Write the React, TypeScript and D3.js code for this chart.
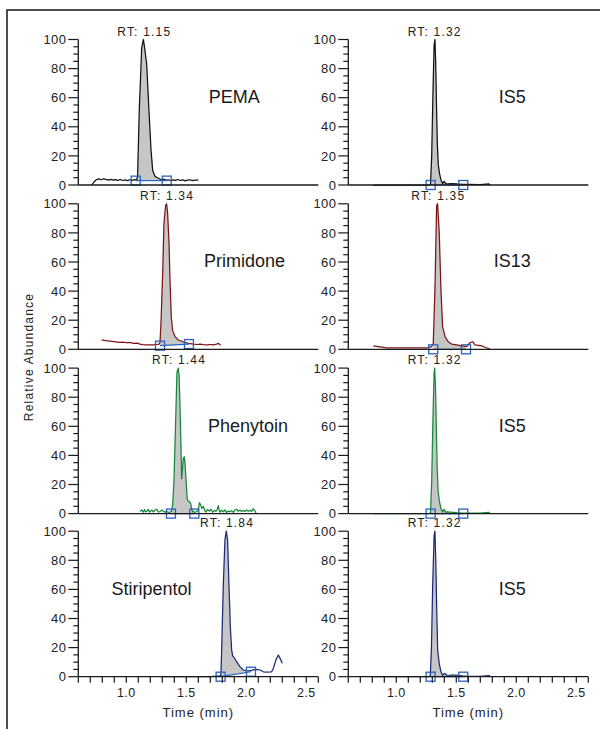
import React from 'react';
import * as d3 from 'd3';

type Pt = [number, number];

// ---------- data ----------
const compoundNames = ['PEMA', 'Primidone', 'Phenytoin', 'Stiripentol'];
const standardNames = ['IS5', 'IS13', 'IS5', 'IS5'];
const compoundRT = [1.15, 1.34, 1.44, 1.84];
const standardRT = [1.32, 1.35, 1.32, 1.32];

const pemaTrace: Pt[] = [
  [0.712, 0], [0.73, 2], [0.75, 3.6], [0.77, 4.2], [0.79, 3.6], [0.81, 4.3], [0.83, 3.8], [0.85, 3.4],
  [0.87, 3.9], [0.89, 3.3], [0.91, 3.7], [0.93, 3.2], [0.95, 3.8], [0.97, 3.1], [0.99, 3.5], [1.01, 3.0],
  [1.03, 3.6], [1.05, 3.2], [1.07, 3.7], [1.085, 3.4], [1.094, 6], [1.108, 51], [1.128, 94], [1.142, 100],
  [1.15, 96], [1.17, 83], [1.189, 51], [1.206, 24], [1.22, 10], [1.239, 6], [1.267, 4.6], [1.29, 3.6],
  [1.31, 4.0], [1.33, 3.4], [1.35, 3.6], [1.37, 3.0], [1.39, 3.5], [1.41, 3.2], [1.43, 3.8], [1.45, 3.1],
  [1.47, 3.5], [1.49, 2.8], [1.51, 3.3], [1.53, 3.6], [1.55, 3.0], [1.57, 3.4], [1.585, 3.3], [1.6, 3.5],
];

const primidoneTrace: Pt[] = [
  [0.794, 6.4], [0.83, 6.0], [0.864, 5.7], [0.9, 5.3], [0.94, 4.8], [0.97, 5.0], [1.003, 4.5], [1.03, 4.7],
  [1.058, 4.1], [1.09, 4.2], [1.114, 3.6], [1.14, 3.2], [1.169, 3.0], [1.2, 3.1], [1.225, 3.0], [1.25, 3.3],
  [1.275, 3.6], [1.281, 5], [1.289, 18], [1.303, 52], [1.314, 87], [1.328, 99], [1.336, 100], [1.344, 94],
  [1.356, 73], [1.364, 48], [1.375, 22], [1.386, 13], [1.406, 8.7], [1.433, 6.4], [1.475, 5.2], [1.517, 4.1],
  [1.558, 3.6], [1.59, 3.3], [1.614, 3.6], [1.64, 3.2], [1.669, 3.0], [1.7, 3.3], [1.725, 3.0], [1.753, 3.6],
  [1.767, 4.1], [1.786, 2.7],
];

const phenytoinTrace: Pt[] = [
  [1.114, 1.4], [1.128, 2.5], [1.142, 1.0], [1.152, 2.8], [1.161, 1.2], [1.172, 1.6], [1.183, 3.0], [1.193, 1.0],
  [1.203, 1.8], [1.214, 2.4], [1.225, 1.2], [1.24, 2.5], [1.253, 3.0], [1.267, 1.2], [1.281, 1.4], [1.295, 2.6],
  [1.308, 1.6], [1.322, 1.0], [1.336, 1.4], [1.35, 1.0], [1.364, 0.9], [1.378, 2.0], [1.386, 6], [1.397, 22],
  [1.411, 63], [1.422, 97], [1.433, 100], [1.44, 95], [1.447, 75], [1.456, 45], [1.461, 24], [1.468, 30],
  [1.475, 38], [1.483, 39], [1.49, 34], [1.497, 24], [1.508, 10], [1.516, 8.5], [1.525, 8.3], [1.536, 7],
  [1.546, 3], [1.553, 1.2], [1.562, 1.5], [1.572, 0.8], [1.585, 1.5], [1.6, 2.5], [1.61, 7.5], [1.619, 6.0],
  [1.63, 3.5], [1.642, 5.0], [1.653, 2.2], [1.664, 1.0], [1.675, 2.8], [1.692, 1.8], [1.705, 3.0], [1.719, 0.9],
  [1.733, 2.2], [1.747, 1.5], [1.757, 2.8], [1.767, 5.5], [1.775, 2.0], [1.781, 1.0], [1.795, 2.4], [1.808, 1.2],
  [1.822, 2.5], [1.836, 0.8], [1.85, 1.8], [1.864, 1.2], [1.878, 2.0], [1.892, 0.8], [1.905, 2.5], [1.919, 3.0],
  [1.933, 1.6], [1.947, 2.4], [1.961, 1.5], [1.975, 2.0], [1.99, 1.5], [2.003, 2.5], [2.017, 1.6], [2.031, 2.2],
  [2.045, 1.5], [2.058, 3.5], [2.07, 2.0], [2.081, 0.5],
];

const stiripentolTrace: Pt[] = [
  [1.3, 0], [1.4, 0], [1.5, 0], [1.6, 0], [1.7, 0], [1.781, 0.5], [1.788, 1], [1.794, 16], [1.808, 62],
  [1.822, 94], [1.833, 100], [1.844, 94], [1.856, 62], [1.867, 34], [1.878, 18.3], [1.886, 14.5], [1.9, 13],
  [1.919, 10.3], [1.947, 6.9], [1.975, 4.6], [2.003, 4.1], [2.03, 4.0], [2.044, 4.3], [2.065, 4.8], [2.086, 5.0],
  [2.114, 4.6], [2.142, 3.4], [2.169, 3.2], [2.211, 3.4], [2.225, 5.7], [2.247, 11.5], [2.267, 14.9],
  [2.281, 12.6], [2.3, 9.2],
];

const is5TraceA: Pt[] = [
  [0.808, 0], [0.9, 0], [1.0, 0], [1.1, 0], [1.2, 0], [1.27, 0], [1.285, 0.5], [1.295, 20], [1.305, 62],
  [1.315, 96], [1.322, 100], [1.328, 85], [1.335, 55], [1.342, 28], [1.35, 14], [1.36, 8], [1.372, 3.5],
  [1.386, 1], [1.398, 2.5], [1.41, 1.2], [1.425, 0.6], [1.447, 1.0], [1.5, 0.8], [1.55, 0.5], [1.6, 0.4],
  [1.7, 0.3], [1.772, 0.8], [1.781, 0],
];

const is13Trace: Pt[] = [
  [0.808, 2.3], [0.85, 1.8], [0.919, 0.9], [0.97, 1.0], [1.031, 0.9], [1.09, 1.0], [1.142, 0.9], [1.2, 1.0],
  [1.253, 0.9], [1.294, 1.8], [1.308, 4.1], [1.322, 41], [1.336, 99], [1.344, 100], [1.358, 80], [1.372, 41],
  [1.386, 15.6], [1.406, 8.7], [1.433, 5.2], [1.461, 3.6], [1.503, 3.0], [1.544, 2.3], [1.586, 1.8],
  [1.614, 4.5], [1.636, 5.2], [1.656, 3.0], [1.683, 2.7], [1.711, 2.3], [1.739, 1.4], [1.781, 0.2],
];

const is5TraceB: Pt[] = [
  [0.808, 0], [0.9, 0], [1.0, 0], [1.1, 0], [1.2, 0], [1.27, 0], [1.285, 0.5], [1.295, 22], [1.305, 64],
  [1.315, 97], [1.32, 100], [1.327, 86], [1.334, 57], [1.341, 30], [1.349, 15], [1.36, 8], [1.372, 3.5],
  [1.386, 1.2], [1.398, 3.0], [1.41, 1.0], [1.425, 1.2], [1.447, 1.0], [1.5, 0.6], [1.55, 0.4], [1.6, 0.3],
  [1.7, 0.3], [1.772, 0.8], [1.781, 0],
];

const is5TraceC: Pt[] = [
  [0.808, 0], [0.9, 0], [1.0, 0], [1.1, 0], [1.2, 0], [1.27, 0], [1.283, 0.5], [1.293, 20], [1.303, 62],
  [1.315, 97], [1.322, 100], [1.329, 80], [1.337, 45], [1.345, 18], [1.358, 9], [1.372, 3.4], [1.386, 1],
  [1.4, 2.3], [1.414, 1.6], [1.428, 0.5], [1.447, 1.0], [1.5, 1.0], [1.55, 0.6], [1.6, 0.3], [1.7, 0.3],
  [1.772, 0.8], [1.781, 0],
];

const compoundTraces = [pemaTrace, primidoneTrace, phenytoinTrace, stiripentolTrace];
const standardTraces = [is5TraceA, is13Trace, is5TraceB, is5TraceC];

// integration boundaries: [start time, start level], [end time, end level]
const compoundBounds: [Pt, Pt][] = [
  [[1.078, 3.0], [1.337, 3.0]],
  [[1.281, 2.5], [1.522, 3.6]],
  [[1.372, 0], [1.567, 0]],
  [[1.786, 0], [2.039, 3.4]],
];
const standardBounds: [Pt, Pt][] = [
  [[1.286, 0], [1.558, 0]],
  [[1.308, 0], [1.581, 0]],
  [[1.286, 0], [1.558, 0]],
  [[1.286, 0], [1.558, 0]],
];

const xTickValues = [0.6, 0.7, 0.8, 0.9, 1.0, 1.1, 1.2, 1.3, 1.4, 1.5, 1.6, 1.7, 1.8, 1.9, 2.0, 2.1, 2.2, 2.3, 2.4, 2.5, 2.6];
const xTickLabels = [1.0, 1.5, 2.0, 2.5];
const yMajorTicks = [0, 20, 40, 60, 80, 100];
const yMinorTicks = [5, 10, 15, 25, 30, 35, 45, 50, 55, 65, 70, 75, 85, 90, 95];

// ---------- layout / style ----------
const traceColors = ['#111111', '#7c1416', '#17883a', '#1b2a78'];
const colX = [78.3, 348.3];
const rowY0 = [185, 349.3, 513.6, 676.7];
const plotW = 240;
const plotH = 145.5;
const compoundLabelT = [1.9, 1.985, 2.015, 1.21];
const standardLabelT = 1.967;
const FONT = '"Liberation Sans", Arial, Helvetica, sans-serif';
const BLUE = '#2862c2';
const AXIS = '#1a1a1a';
const TEXT = '#222';

function valueAt(trace: Pt[], t: number): number {
  for (let i = 0; i < trace.length - 1; i++) {
    const [t0, v0] = trace[i];
    const [t1, v1] = trace[i + 1];
    if (t >= t0 && t <= t1) return v0 + ((v1 - v0) * (t - t0)) / (t1 - t0);
  }
  return trace[trace.length - 1][1];
}

interface PanelProps {
  x0: number;
  y0: number;
  trace: Pt[];
  bounds: [Pt, Pt];
  rt: number;
  name: string;
  labelT: number;
  color: string;
  showX: boolean;
}

function Panel({ x0, y0, trace, bounds, rt, name, labelT, color, showX }: PanelProps) {
  const x = d3.scaleLinear().domain([0.6, 2.6]).range([x0, x0 + plotW]);
  const y = d3.scaleLinear().domain([0, 100]).range([y0, y0 - plotH]);
  const line = d3.line<Pt>().x((d) => x(d[0])).y((d) => y(d[1]));
  const [[t1, b1], [t2, b2]] = bounds;
  const base = (t: number) => b1 + ((b2 - b1) * (t - t1)) / (t2 - t1);
  const fillPts: Pt[] = [
    [t1, valueAt(trace, t1)],
    ...trace.filter((p) => p[0] > t1 && p[0] < t2),
    [t2, valueAt(trace, t2)],
  ];
  const area = d3
    .area<Pt>()
    .x((d) => x(d[0]))
    .y0((d) => y(base(d[0])))
    .y1((d) => y(Math.max(d[1], base(d[0]))));
  const sq = 9;
  return (
    <g>
      <path d={area(fillPts) || ''} fill="#c6c6c6" stroke="none" />
      <path d={line(trace) || ''} fill="none" stroke={color} strokeWidth={1.25} strokeLinejoin="round" />
      <line x1={x(t1)} y1={y(b1)} x2={x(t2)} y2={y(b2)} stroke={BLUE} strokeWidth={1.2} />
      {[bounds[0], bounds[1]].map((b, i) => (
        <rect key={i} x={x(b[0]) - sq / 2} y={y(b[1]) - sq / 2} width={sq} height={sq} fill="none" stroke={BLUE} strokeWidth={1.3} />
      ))}
      {/* axes */}
      <line x1={x0} y1={y(0)} x2={x0} y2={y(100)} stroke={AXIS} strokeWidth={1.3} />
      <line x1={x0} y1={y0} x2={x0 + plotW} y2={y0} stroke={AXIS} strokeWidth={1.3} />
      {yMajorTicks.map((v) => (
        <g key={'M' + v}>
          <line x1={x0 - 10} x2={x0} y1={y(v)} y2={y(v)} stroke={AXIS} strokeWidth={1.2} />
          <text x={x0 - 12} y={y(v)} dy="0.36em" textAnchor="end" fontSize={13} letterSpacing={0.4} fill={TEXT} fontFamily={FONT}>
            {v}
          </text>
        </g>
      ))}
      {yMinorTicks.map((v) => (
        <line key={'m' + v} x1={x0 - 5} x2={x0} y1={y(v)} y2={y(v)} stroke={AXIS} strokeWidth={1.2} />
      ))}
      {showX && (
        <g>
          {xTickValues.map((v) => (
            <line key={'x' + v} x1={x(v)} x2={x(v)} y1={y0} y2={y0 + 6} stroke={AXIS} strokeWidth={1.2} />
          ))}
          {xTickLabels.map((v) => (
            <text key={'xl' + v} x={x(v)} y={y0 + 20} textAnchor="middle" fontSize={12.5} letterSpacing={0.4} fill={TEXT} fontFamily={FONT}>
              {v.toFixed(1)}
            </text>
          ))}
          <text x={x0 + plotW / 2} y={y0 + 40} textAnchor="middle" fontSize={13} letterSpacing={1} fill={TEXT} fontFamily={FONT}>
            Time (min)
          </text>
        </g>
      )}
      <text x={x(rt)} y={y(100) - 4} textAnchor="middle" fontSize={12} letterSpacing={1.2} fill={TEXT} fontFamily={FONT}>
        {`RT: ${rt.toFixed(2)}`}
      </text>
      <text x={x(labelT)} y={y0 - 82} textAnchor="middle" fontSize={18} fill="#1a1a1a" fontFamily={FONT}>
        {name}
      </text>
    </g>
  );
}

export default function App() {
  return (
    <svg width={600} height={729} style={{ position: 'absolute', left: 0, top: 0, display: 'block', background: '#fff' }}>
      <rect x={0} y={0} width={600} height={729} fill="#fff" />
      <rect x={7} y={10} width={640} height={760} fill="none" stroke="#222" strokeWidth={1.6} />
      {compoundNames.map((n, i) => (
        <Panel
          key={'c' + i}
          x0={colX[0]}
          y0={rowY0[i]}
          trace={compoundTraces[i]}
          bounds={compoundBounds[i]}
          rt={compoundRT[i]}
          name={n}
          labelT={compoundLabelT[i]}
          color={traceColors[i]}
          showX={i === 3}
        />
      ))}
      {standardNames.map((n, i) => (
        <Panel
          key={'s' + i}
          x0={colX[1]}
          y0={rowY0[i]}
          trace={standardTraces[i]}
          bounds={standardBounds[i]}
          rt={standardRT[i]}
          name={n}
          labelT={standardLabelT}
          color={traceColors[i]}
          showX={i === 3}
        />
      ))}
      <text
        transform="translate(33,357) rotate(-90)"
        textAnchor="middle"
        fontSize={12}
        letterSpacing={1.2}
        fill={TEXT}
        fontFamily={FONT}
      >
        Relative Abundance
      </text>
    </svg>
  );
}
